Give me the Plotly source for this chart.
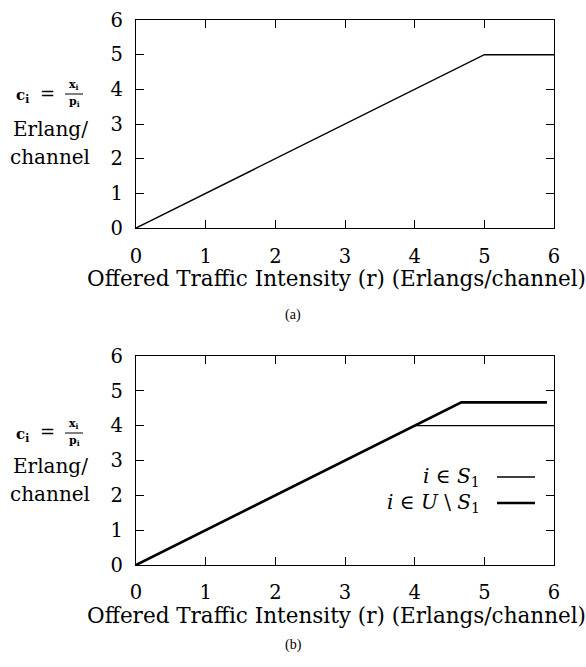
import plotly.graph_objects as go

# Data (a)
r_a = [0, 5, 6]
c_a = [0, 5, 5]
# Data (b)
r_s1 = [0, 4, 6]
c_s1 = [0, 4, 4]
r_us1 = [0, 4.67, 5.9]
c_us1 = [0, 4.67, 4.67]

tick_vals = [0, 1, 2, 3, 4, 5, 6]
tick_text = ["0", "1", "2", "3", "4", "5", "6"]

W, H = 586, 667
SERIF = "DejaVu Serif"
FS = 19.5

def py(y):  # pixel y from top -> paper y
    return 1 - y / H

def px(x):
    return x / W

fig = go.Figure()
fig.add_trace(go.Scatter(x=r_a, y=c_a, mode="lines", line=dict(color="black", width=1.5),
                         xaxis="x", yaxis="y", showlegend=False))
fig.add_trace(go.Scatter(x=r_s1, y=c_s1, mode="lines", line=dict(color="black", width=1.3),
                         xaxis="x2", yaxis="y2", showlegend=False))
fig.add_trace(go.Scatter(x=r_us1, y=c_us1, mode="lines", line=dict(color="black", width=2.6),
                         xaxis="x2", yaxis="y2", showlegend=False))

ax_common = dict(range=[0, 6], tickvals=tick_vals, ticktext=tick_text, ticks="inside",
                 ticklen=8, tickwidth=1.3, tickcolor="black", showline=True, linecolor="black",
                 linewidth=1.4, mirror="ticks", showgrid=False, zeroline=False,
                 tickfont=dict(family=SERIF, size=FS, color="black"))

xdom = [px(136), px(554)]
fig.update_layout(
    width=W, height=H, margin=dict(l=0, r=0, t=0, b=0, autoexpand=False),
    paper_bgcolor="white", plot_bgcolor="white",
    xaxis=dict(domain=xdom, anchor="y", ticklabelstandoff=10, automargin=False, **ax_common),
    yaxis=dict(domain=[py(228), py(20)], anchor="x", ticklabelstandoff=8, automargin=False, **ax_common),
    xaxis2=dict(domain=xdom, anchor="y2", ticklabelstandoff=9, automargin=False, **ax_common),
    yaxis2=dict(domain=[py(565), py(356)], anchor="x2", ticklabelstandoff=8, automargin=False, **ax_common),
)

ann = []
def text(x, y, s, size=FS, xanchor="center", family=SERIF):
    ann.append(dict(x=px(x), y=py(y), xref="paper", yref="paper", text=s, showarrow=False,
                    xanchor=xanchor, yanchor="middle", font=dict(family=family, size=size, color="black")))

for (yc, ye, ych, xt, cap, capy) in [(93, 129, 157, 278, "(a)", 315), (432, 466, 494, 615, "(b)", 645)]:
    text(22, yc + 2, "<b>c<sub>i</sub></b>", size=15)
    text(47, yc, "=", size=18)
    text(74, yc - 8, "<b>x<sub>i</sub></b>", size=11)
    text(74, yc + 9, "<b>p<sub>i</sub></b>", size=11)
    text(50, ye, "Erlang/", size=20)
    text(50, ych, "channel", size=20)
    text(336, xt, "Offered Traffic Intensity (r) (Erlangs/channel)", size=21.5)
    text(293, capy, cap, size=14, family="Liberation Serif")

shapes = []
for yc in (93, 432):
    shapes.append(dict(type="line", xref="paper", yref="paper", x0=px(65), x1=px(83),
                       y0=py(yc + 1), y1=py(yc + 1), line=dict(color="black", width=1)))

# legend (b)
text(482, 477, "<i>i</i> ∈ <i>S</i><sub>1</sub>", size=20, xanchor="right")
text(482, 503, "<i>i</i> ∈ <i>U</i> \\ <i>S</i><sub>1</sub>", size=20, xanchor="right")
shapes.append(dict(type="line", xref="paper", yref="paper", x0=px(497), x1=px(535),
                   y0=py(477), y1=py(477), line=dict(color="black", width=1.3)))
shapes.append(dict(type="line", xref="paper", yref="paper", x0=px(497), x1=px(535),
                   y0=py(503), y1=py(503), line=dict(color="black", width=2.6)))

fig.update_layout(annotations=ann, shapes=shapes)
fig.write_html("out.html", config={"displayModeBar": False},
               post_script="document.body.style.margin='0';document.body.style.overflow='hidden';")
